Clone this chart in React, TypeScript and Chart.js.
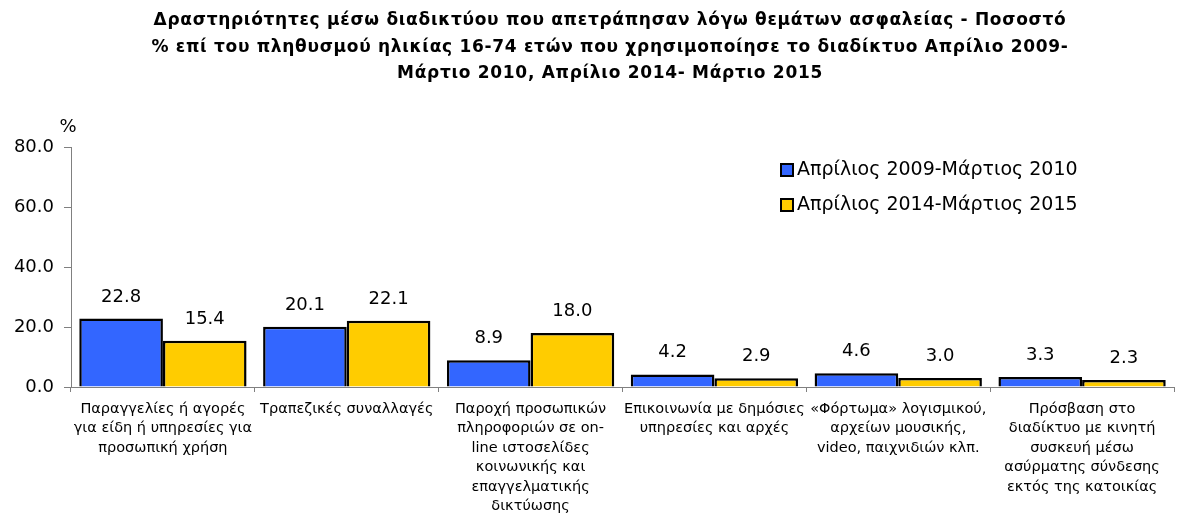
import React, { useEffect, useRef } from "react";
import { Chart, registerables } from "chart.js";

Chart.register(...registerables);

const categories: string[][] = [
  ["Παραγγελίες ή αγορές", "για είδη ή υπηρεσίες για", "προσωπική χρήση"],
  ["Τραπεζικές συναλλαγές"],
  ["Παροχή προσωπικών", "πληροφοριών σε on-", "line ιστοσελίδες", "κοινωνικής και", "επαγγελματικής", "δικτύωσης"],
  ["Επικοινωνία με δημόσιες", "υπηρεσίες και αρχές"],
  ["«Φόρτωμα» λογισμικού,", "αρχείων μουσικής,", "video, παιχνιδιών κλπ."],
  ["Πρόσβαση στο", "διαδίκτυο με κινητή", "συσκευή μέσω", "ασύρματης σύνδεσης", "εκτός της κατοικίας"],
];

const seriesNames = ["Απρίλιος 2009-Μάρτιος 2010", "Απρίλιος 2014-Μάρτιος 2015"];
const series2009 = [22.8, 20.1, 8.9, 4.2, 4.6, 3.3];
const series2014 = [15.4, 22.1, 18.0, 2.9, 3.0, 2.3];
const yTicks = [0, 20, 40, 60, 80];
const titleLines = [
  "Δραστηριότητες μέσω διαδικτύου που απετράπησαν λόγω θεμάτων ασφαλείας - Ποσοστό",
  "% επί του πληθυσμού ηλικίας 16-74 ετών που χρησιμοποίησε το διαδίκτυο Απρίλιο 2009-",
  "Μάρτιο 2010, Απρίλιο 2014- Μάρτιο 2015",
];
const yUnit = "%";

const FONT = "'DejaVu Sans', sans-serif";
const colors = ["#3366FF", "#FFCC00"];

export default function App() {
  const ref = useRef<HTMLCanvasElement>(null);

  useEffect(() => {
    document.body.style.margin = "0";
    const canvas = ref.current!;
    const overlay = {
      id: "overlay",
      afterDraw(chart: any) {
        const ctx = chart.ctx;
        ctx.save();
        // title
        ctx.fillStyle = "#000";
        ctx.font = `bold 17px ${FONT}`;
        (ctx as any).letterSpacing = "0.7px";
        ctx.textAlign = "center";
        ctx.textBaseline = "middle";
        titleLines.forEach((l, i) => ctx.fillText(l, 610, 21 + i * 26.5));
        (ctx as any).letterSpacing = "0px";
        // unit
        ctx.font = `18px ${FONT}`;
        ctx.textAlign = "center";
        ctx.fillText(yUnit, 68, 127);
        // data labels
        ctx.font = `18px ${FONT}`;
        ctx.textBaseline = "alphabetic";
        chart.data.datasets.forEach((ds: any, di: number) => {
          const meta = chart.getDatasetMeta(di);
          meta.data.forEach((el: any, i: number) => {
            ctx.fillText(Number(ds.data[i]).toFixed(1), el.x, el.y - 17);
          });
        });
        // legend
        ctx.font = `19px ${FONT}`;
        chart.data.datasets.forEach((ds: any, di: number) => {
          const y = 170 + di * 35;
          ctx.fillStyle = ds.backgroundColor;
          ctx.fillRect(781, y - 6, 12, 12);
          ctx.strokeStyle = "#000";
          ctx.lineWidth = 2;
          ctx.strokeRect(781, y - 6, 12, 12);
          ctx.fillStyle = "#000";
          ctx.textAlign = "left";
          ctx.textBaseline = "middle";
          ctx.fillText(ds.label, 797, y);
        });
        ctx.restore();
      },
    };

    const chart = new Chart(canvas, {
      type: "bar",
      data: {
        labels: categories,
        datasets: [
          { label: seriesNames[0], data: series2009, backgroundColor: colors[0], borderColor: "#000", borderWidth: 2.5 },
          { label: seriesNames[1], data: series2014, backgroundColor: colors[1], borderColor: "#000", borderWidth: 2.5 },
        ],
      },
      options: {
        animation: false,
        responsive: false,
        layout: { padding: { top: 147, left: 0, right: 4, bottom: 0 } },
        plugins: { legend: { display: false }, title: { display: false }, tooltip: { enabled: false } },
        datasets: { bar: { categoryPercentage: 0.91, barPercentage: 1 } },
        scales: {
          x: {
            offset: true,
            grid: { drawOnChartArea: false, drawTicks: true, tickLength: 5, color: "#808080", offset: true },
            border: { color: "#808080", width: 1 },
            ticks: {
              autoSkip: false,
              maxRotation: 0,
              padding: 7,
              color: "#000",
              font: { family: FONT, size: 14.5, lineHeight: 1.35 },
            },
            afterFit: (s: any) => { s.height = 137; },
          },
          y: {
            min: 0,
            max: 80,
            afterBuildTicks: (s: any) => { s.ticks = yTicks.map((v) => ({ value: v })); },
            grid: { drawOnChartArea: false, drawTicks: true, tickLength: 7, color: "#808080" },
            border: { color: "#808080", width: 1 },
            ticks: {
              padding: 10,
              color: "#000",
              font: { family: FONT, size: 18 },
              callback: (v: any) => Number(v).toFixed(1),
            },
            afterFit: (s: any) => { s.width = 71; },
          },
        },
      },
      plugins: [overlay],
    });
    return () => chart.destroy();
  }, []);

  return <canvas ref={ref} width={1178} height={524} style={{ display: "block" }} />;
}
